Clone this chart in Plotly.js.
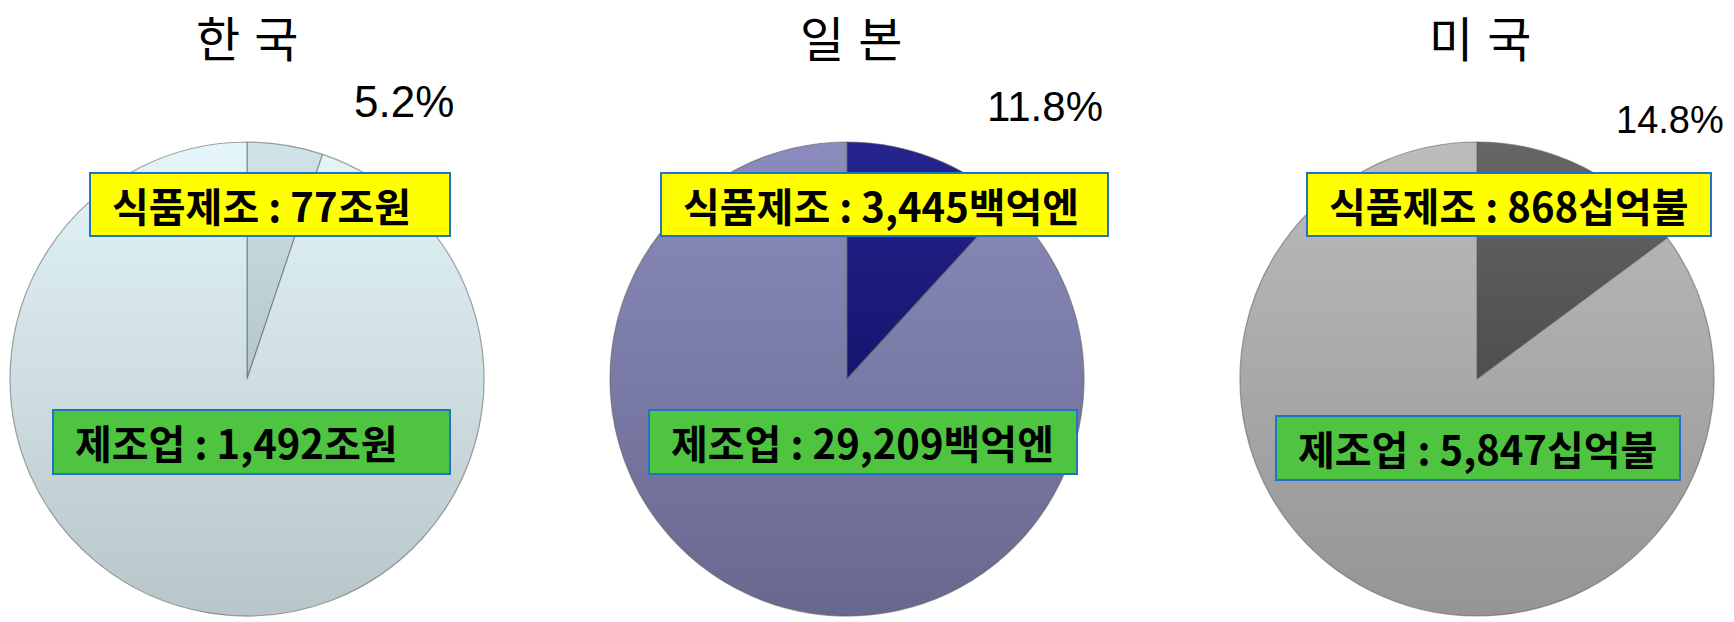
<!DOCTYPE html>
<html>
<head>
<meta charset="utf-8">
<script src="https://cdn.plot.ly/plotly-3.0.1.min.js"></script>
<style>html,body{margin:0;padding:0;background:#fff;}</style>
</head>
<body>
<div id="chart" style="width:1734px;height:622px;"></div>
<script>
// ---- data ----
const countries = ['한국', '일본', '미국'];
const foodValues = [77, 3445, 868];          // 식품제조
const mfgTotals = [1492, 29209, 5847];        // 제조업 전체
const units = ['조원', '백억엔', '십억불'];
const foodLabel = '식품제조';
const mfgLabel = '제조업';

// ---- styles ----
const foodColors = ['#c3d7db', '#1d1d80', '#5b5b5b'];
const restTop = ['#e4f6fa', '#8b8cbd', '#bcbcbc'];
const restBottom = ['#b8c6c9', '#68688f', '#959595'];
const foodTop = ['#d0e3e7', '#25258e', '#666666'];
const foodBottom = ['#b3c7cb', '#15156f', '#4e4e4e'];

const W = 1734, H = 622;
const pieCenters = [247, 847, 1477];
const titleX = [247, 851, 1480];
const titleSpacing = 14;
const pieR = 237, pieCy = 379;
const pctPos = [[404, 101], [1045, 107], [1670, 120]];
const pctSize = [44, 42, 38];
const yellowBox = [[89, 172, 362, 65], [660, 172, 449, 65], [1306, 172, 406, 65]];
const greenBox = [[52, 409, 399, 66], [648, 409, 430, 66], [1275, 415, 406, 66]];

const fmt = v => v.toLocaleString('en-US');

const traces = countries.map((c, i) => ({
  type: 'pie',
  values: [foodValues[i], mfgTotals[i] - foodValues[i]],
  labels: [foodLabel, '기타 ' + mfgLabel],
  sort: false,
  direction: 'clockwise',
  rotation: 0,
  textinfo: 'none',
  hoverinfo: 'skip',
  marker: {colors: [foodColors[i], restTop[i]], line: {color: 'rgba(90,90,90,0.55)', width: 1.2}},
  domain: {
    x: [(pieCenters[i] - pieR) / W, (pieCenters[i] + pieR) / W],
    y: [1 - (pieCy + pieR) / H, 1 - (pieCy - pieR) / H]
  }
}));

const annotations = [];
countries.forEach((c, i) => {
  annotations.push({
    xref: 'paper', yref: 'paper', x: (titleX[i] + titleSpacing / 2) / W, y: 1 - 36 / H,
    xanchor: 'center', yanchor: 'middle', showarrow: false,
    text: c, font: {family: 'Noto Sans CJK KR', size: 48, color: '#000'}
  });
  annotations.push({
    xref: 'paper', yref: 'paper', x: pctPos[i][0] / W, y: 1 - pctPos[i][1] / H,
    xanchor: 'center', yanchor: 'middle', showarrow: false,
    text: (foodValues[i] / mfgTotals[i] * 100).toFixed(1) + '%',
    font: {family: 'Liberation Sans', size: pctSize[i], color: '#000'}
  });
  const yb = yellowBox[i];
  annotations.push({
    xref: 'paper', yref: 'paper', x: yb[0] / W, y: 1 - (yb[1] + yb[3] / 2) / H,
    xanchor: 'left', yanchor: 'middle', showarrow: false,
    width: yb[2] - 6, height: yb[3] - 6, align: 'left', valign: 'middle',
    bgcolor: '#ffff00', bordercolor: '#1f74c8', borderwidth: 2, borderpad: 1,
    text: '<b>\u2002' + foodLabel + ' : ' + fmt(foodValues[i]) + units[i] + '</b>',
    font: {family: 'Noto Sans CJK KR', size: 40, color: '#000'}
  });
  const gb = greenBox[i];
  annotations.push({
    xref: 'paper', yref: 'paper', x: gb[0] / W, y: 1 - (gb[1] + gb[3] / 2) / H,
    xanchor: 'left', yanchor: 'middle', showarrow: false,
    width: gb[2] - 6, height: gb[3] - 6, align: 'left', valign: 'middle',
    bgcolor: '#4fc441', bordercolor: '#1f74c8', borderwidth: 2, borderpad: 1,
    text: '<b>\u2002' + mfgLabel + ' : ' + fmt(mfgTotals[i]) + units[i] + '</b>',
    font: {family: 'Noto Sans CJK KR', size: 40, color: '#000'}
  });
});

const layout = {
  width: W, height: H,
  margin: {l: 0, r: 0, t: 0, b: 0},
  paper_bgcolor: '#fff', plot_bgcolor: '#fff',
  showlegend: false,
  annotations: annotations
};

Plotly.newPlot('chart', traces, layout, {displayModeBar: false, staticPlot: true}).then(gd => {
  // vertical shading of slices
  const svg = gd.querySelector('svg.main-svg');
  const ns = 'http://www.w3.org/2000/svg';
  let defs = svg.querySelector('defs');
  if (!defs) { defs = document.createElementNS(ns, 'defs'); svg.insertBefore(defs, svg.firstChild); }
  const mkGrad = (id, top, bottom) => {
    const g = document.createElementNS(ns, 'linearGradient');
    g.setAttribute('id', id);
    g.setAttribute('x1', '0'); g.setAttribute('y1', '0');
    g.setAttribute('x2', '0'); g.setAttribute('y2', '1');
    [[0, top], [1, bottom]].forEach(([o, c]) => {
      const s = document.createElementNS(ns, 'stop');
      s.setAttribute('offset', o); s.setAttribute('stop-color', c);
      g.appendChild(s);
    });
    defs.appendChild(g);
  };
  const pieTraces = gd.querySelectorAll('.pielayer .trace');
  pieTraces.forEach((t, i) => {
    mkGrad('gf' + i, foodTop[i], foodBottom[i]);
    mkGrad('gr' + i, restTop[i], restBottom[i]);
    const paths = t.querySelectorAll('g.slice path.surface');
    if (paths[0]) paths[0].style.fill = 'url(#gf' + i + ')';
    if (paths[1]) paths[1].style.fill = 'url(#gr' + i + ')';
  });
  // slightly wider letter spacing for the country titles
  countries.forEach((c, i) => {
    const t = gd.querySelector('.annotation[data-index="' + (i * 4) + '"] text.annotation-text');
    if (t) t.style.letterSpacing = titleSpacing + 'px';
  });
});
</script>
</body>
</html>
